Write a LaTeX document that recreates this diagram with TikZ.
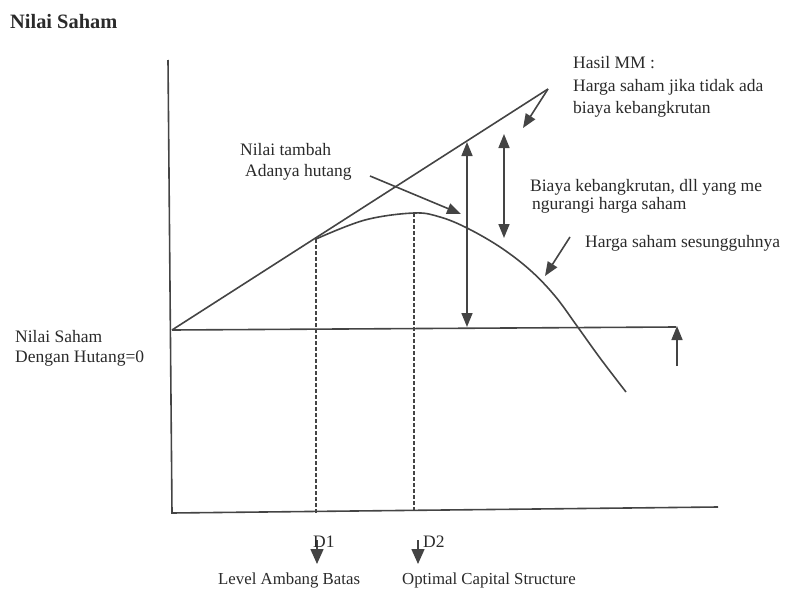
\documentclass[tikz,border=0pt]{standalone}
\usepackage{fontspec}
\setmainfont{Liberation Serif}
\usetikzlibrary{arrows.meta}
\definecolor{ink}{HTML}{444444}
\definecolor{txt}{HTML}{2A2A2A}
\begin{document}
\begin{tikzpicture}[x=1pt,y=-1pt,
  lbl/.style={anchor=base west,inner sep=0pt,text=txt,font=\fontsize{17.5}{20}\selectfont},
  ln/.style={draw=ink,line width=1.6pt},
  arr/.style={ln,-{Triangle[length=14pt,width=11pt]}},
  darr/.style={ln,{Triangle[length=14pt,width=11pt]}-{Triangle[length=14pt,width=11pt]}},
  bigarr/.style={ln,-{Triangle[length=15pt,width=13pt]}},
  dashln/.style={draw=ink,line width=1.5pt,dash pattern=on 4pt off 2pt}]
\useasboundingbox (0,0) rectangle (785,589);
% axes
\coordinate (ytop) at (168,60);
\coordinate (orig) at (172,513);
\coordinate (xend) at (718,507);
\coordinate (v0) at (172,330);
\coordinate (hend) at (676,327);
\draw[ln] (ytop) -- (orig) -- (xend);
\draw[ln] (v0) -- (hend);
% MM line
\coordinate (mmend) at (548,89);
\draw[ln] (v0) -- (mmend);
% actual curve
\coordinate (t1) at (316,239);
\coordinate (pk) at (414,213);
\draw[ln] plot[smooth,tension=0.6] coordinates {(316,239) (365,220) (414,213) (440,217) (467,228) (500,247) (530,270) (555,296) (577,326) (600,358) (626,392)};
% dashed verticals
\coordinate (d1b) at (316,513);
\coordinate (d2b) at (414,512);
\draw[dashln] (t1) -- (d1b);
\draw[dashln] (pk) -- (d2b);
% vertical arrows
\coordinate (a1t) at (467,142);
\coordinate (a1b) at (467,327);
\draw[darr] (a1b) -- (a1t);
\coordinate (a2t) at (504,134);
\coordinate (a2b) at (504,238);
\draw[darr] (a2b) -- (a2t);
\coordinate (a3s) at (677,366);
\coordinate (a3t) at (677,326);
\draw[arr] (a3s) -- (a3t);
% pointer arrows
\coordinate (hs) at (548,89);
\coordinate (ht) at (523,128);
\draw[arr] (hs) -- (ht);
\coordinate (ns) at (370,176);
\coordinate (nt) at (461,214);
\draw[arr] (ns) -- (nt);
\coordinate (gs) at (570,237);
\coordinate (gt) at (545,276);
\draw[arr] (gs) -- (gt);
% D arrows
\coordinate (d1s) at (317,540);
\coordinate (d1t) at (317,564);
\draw[bigarr] (d1s) -- (d1t);
\coordinate (d2s) at (418,540);
\coordinate (d2t) at (418,564);
\draw[bigarr] (d2s) -- (d2t);
% labels
\node[lbl,font=\fontsize{20.4}{24}\selectfont\bfseries] (title) at (10,28) {Nilai Saham};
\node[lbl] (mm1) at (573,68) {Hasil MM :};
\node[lbl] (mm2) at (573,91) {Harga saham jika tidak ada};
\node[lbl] (mm3) at (573,113) {biaya kebangkrutan};
\node[lbl] (nt1) at (240,155) {Nilai tambah};
\node[lbl] (nt2) at (245,176) {Adanya hutang};
\node[lbl] (bk1) at (530,191) {Biaya kebangkrutan, dll yang me};
\node[lbl] (bk2) at (532,209) {ngurangi harga saham};
\node[lbl] (hs1) at (585,247) {Harga saham sesungguhnya};
\node[lbl] (ns1) at (15,342) {Nilai Saham};
\node[lbl] (ns2) at (15,362) {Dengan Hutang=0};
\node[lbl] (D1) at (313,547) {D1};
\node[lbl] (D2) at (423,547) {D2};
\node[lbl,font=\fontsize{16.8}{20}\selectfont] (lab) at (218,584) {Level Ambang Batas};
\node[lbl,font=\fontsize{16.8}{20}\selectfont] (ocs) at (402,584) {Optimal Capital Structure};
\end{tikzpicture}
\end{document}
